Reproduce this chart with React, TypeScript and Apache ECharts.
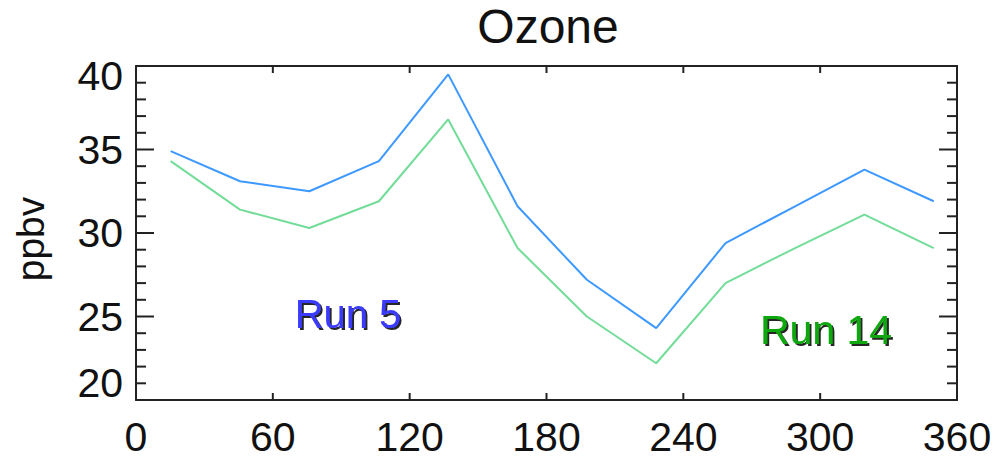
import React, { useEffect, useRef } from "react";
import * as echarts from "echarts";

const monthX = [15.2, 45.6, 76.0, 106.5, 136.9, 167.3, 197.7, 228.1, 258.5, 289.0, 319.4, 349.8];
const run5 = [34.9, 33.1, 32.5, 34.3, 39.5, 31.6, 27.2, 24.3, 29.4, 31.6, 33.8, 31.9];
const run14 = [34.3, 31.4, 30.3, 31.9, 36.8, 29.1, 25.0, 22.2, 27.0, 29.1, 31.1, 29.1];
const xTicks = [0, 60, 120, 180, 240, 300, 360];
const yTicks = [20, 25, 30, 35, 40];
const yMinorTicks = [21, 22, 23, 24, 26, 27, 28, 29, 31, 32, 33, 34, 36, 37, 38, 39];

const FONT = "'Liberation Sans', Arial, Helvetica, sans-serif";
const AXIS = "#222";
const GRID = { left: 136, right: 39, top: 66, bottom: 58 };
const W = 996;
const H = 458;

export default function App() {
  const ref = useRef<HTMLDivElement>(null);
  useEffect(() => {
    if (!ref.current) return;
    const chart = echarts.init(ref.current, undefined, { renderer: "svg" });
    const pair = (xs: number[], ys: number[]) => xs.map((x, i) => [x, ys[i]]);
    const xMin = xTicks[0];
    const xMax = xTicks[xTicks.length - 1];
    const yMin = yTicks[0];
    const yMax = yTicks[yTicks.length - 1];
    const lineAxis = { show: true, onZero: false, lineStyle: { color: AXIS, width: 2 } };

    const tickStyle = { stroke: AXIS, lineWidth: 2 };
    const renderTicks = (_params: any, api: any) => {
      const children: any[] = [];
      const yTick = (v: number, len: number) => {
        const l = api.coord([xMin, v]);
        const r = api.coord([xMax, v]);
        children.push({ type: "line", shape: { x1: l[0], y1: l[1], x2: l[0] + len, y2: l[1] }, style: tickStyle });
        children.push({ type: "line", shape: { x1: r[0] - len, y1: r[1], x2: r[0], y2: r[1] }, style: tickStyle });
      };
      yTicks.slice(1, -1).forEach((v) => yTick(v, 18));
      yMinorTicks.forEach((v) => yTick(v, 10));
      xTicks.slice(1, -1).forEach((v) => {
        const b = api.coord([v, yMin]);
        const t = api.coord([v, yMax]);
        children.push({ type: "line", shape: { x1: b[0], y1: b[1], x2: b[0], y2: b[1] - 7 }, style: tickStyle });
        children.push({ type: "line", shape: { x1: t[0], y1: t[1], x2: t[0], y2: t[1] + 7 }, style: tickStyle });
      });
      return { type: "group", children };
    };

    const labelFont = { fontFamily: FONT, fontSize: 41, color: "#111" };

    chart.setOption({
      animation: false,
      backgroundColor: "#fff",
      title: {
        text: "Ozone",
        left: 543,
        top: -3,
        textAlign: "center",
        textStyle: { fontFamily: FONT, fontSize: 48, fontWeight: "normal", color: "#111" },
      },
      grid: GRID,
      xAxis: [
        {
          type: "value",
          min: xMin,
          max: xMax,
          interval: 60,
          position: "bottom",
          splitLine: { show: false },
          axisLine: lineAxis,
          axisTick: { show: false },
          axisLabel: { show: true, ...labelFont, margin: 16 },
        },
        {
          type: "value",
          min: xMin,
          max: xMax,
          interval: 60,
          position: "top",
          splitLine: { show: false },
          axisLine: lineAxis,
          axisTick: { show: false },
          axisLabel: { show: false },
        },
      ],
      yAxis: [
        {
          type: "value",
          min: yMin,
          max: yMax,
          interval: 5,
          position: "left",
          splitLine: { show: false },
          axisLine: lineAxis,
          axisTick: { show: false },
          name: "ppbv",
          nameLocation: "middle",
          nameGap: 86,
          nameTextStyle: { fontFamily: FONT, fontSize: 39, color: "#111", padding: [0, 12, 0, 0] },
          axisLabel: {
            show: true,
            ...labelFont,
            margin: 13,
            verticalAlignMinLabel: "bottom",
            verticalAlignMaxLabel: "top",
            formatter: (v: number) =>
              v === yMax ? `{mx|${v}}` : v === yMin ? `{mn|${v}}` : String(v),
            rich: {
              mx: { ...labelFont, lineHeight: 20 },
              mn: { ...labelFont, lineHeight: 34 },
            },
          },
        },
        {
          type: "value",
          min: yMin,
          max: yMax,
          interval: 5,
          position: "right",
          splitLine: { show: false },
          axisLine: lineAxis,
          axisTick: { show: false },
          axisLabel: { show: false },
        },
      ],
      series: [
        {
          name: "ticks",
          type: "custom",
          silent: true,
          clip: false,
          z: 5,
          data: [[xMin, yMin]],
          renderItem: renderTicks,
        },
        {
          name: "Run 5",
          type: "line",
          data: pair(monthX, run5),
          showSymbol: false,
          symbol: "none",
          lineStyle: { color: "#3d99ff", width: 2 },
        },
        {
          name: "Run 14",
          type: "line",
          data: pair(monthX, run14),
          showSymbol: false,
          symbol: "none",
          lineStyle: { color: "#72dc98", width: 2 },
        },
      ],
      graphic: [
        {
          type: "text",
          x: 348,
          y: 314,
          style: {
            text: "Run 5",
            fontFamily: FONT,
            fontSize: 40,
            fill: "#3b3bff",
            align: "center",
            verticalAlign: "middle",
            textShadowColor: "rgba(0,0,0,0.85)",
            textShadowOffsetX: 2,
            textShadowOffsetY: 2,
            textShadowBlur: 1,
          },
        },
        {
          type: "text",
          x: 826,
          y: 330,
          style: {
            text: "Run 14",
            fontFamily: FONT,
            fontSize: 41,
            fill: "#10a810",
            align: "center",
            verticalAlign: "middle",
            textShadowColor: "rgba(0,0,0,0.85)",
            textShadowOffsetX: 2,
            textShadowOffsetY: 2,
            textShadowBlur: 1,
          },
        },
      ],
    });
    return () => chart.dispose();
  }, []);
  return (
    <div
      ref={ref}
      style={{ position: "fixed", left: 0, top: 0, width: W, height: H, background: "#fff" }}
    />
  );
}
